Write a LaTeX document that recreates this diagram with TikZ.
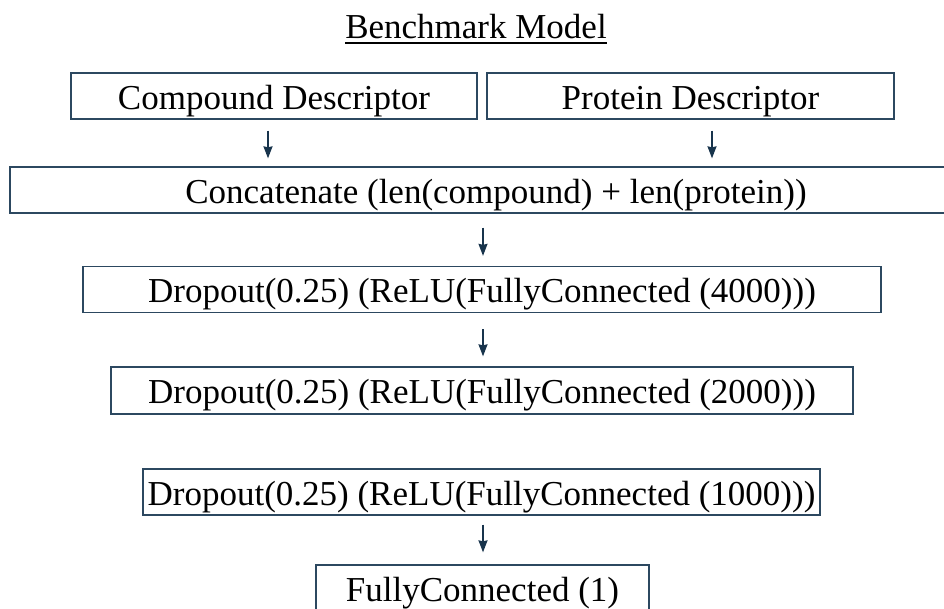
\documentclass[tikz,border=0pt]{standalone}
\usepackage{fontspec}
\setmainfont{Liberation Serif}
\usepackage{xcolor}
\usetikzlibrary{arrows.meta}
\definecolor{boxline}{RGB}{44,72,96}
\definecolor{arrline}{RGB}{24,52,76}
\tikzset{every node/.append style={font=\fontsize{35}{42}\selectfont}}
\tikzset{layer/.style={draw=boxline, line width=1.3pt, inner sep=0pt, minimum height=46pt, text height=36pt, text depth=10pt}}
\tikzset{flow/.style={->, arrline, line width=1.4pt}}

\begin{document}
\begin{tikzpicture}[x=1pt, y=-1pt, >={Stealth[length=12pt, width=9pt, inset=1pt]}]
    \useasboundingbox (0,0) rectangle (944,608);
    \node[inner sep=0pt, anchor=base] (title) at (476,38) {Benchmark Model};
    \draw[line width=1.6pt] ([yshift=-5pt]title.base west) -- ([yshift=-5pt]title.base east);
    \node[layer, minimum width=406pt] (compound) at (274,96) {Compound Descriptor};
    \node[layer, minimum width=407pt] (protein) at (690.5,96) {Protein Descriptor};
    \node[layer, minimum width=972pt] (concat) at (496,190) {Concatenate (len(compound) + len(protein))};
    \node[layer, minimum width=798pt, minimum height=45pt] (drop4k) at (482,289.5) {Dropout(0.25) (ReLU(FullyConnected (4000)))};
    \node[layer, minimum width=742pt, minimum height=47pt] (drop2k) at (482,390.5) {Dropout(0.25) (ReLU(FullyConnected (2000)))};
    \node[layer, minimum width=677pt] (drop1k) at (481.5,492) {Dropout(0.25) (ReLU(FullyConnected (1000)))};
    \node[layer, minimum width=333pt, minimum height=47pt] (fc) at (482.5,588.5) {FullyConnected (1)};
    % arrows between the layers
    \coordinate (c1) at (268,0);
    \coordinate (c2) at (712,0);
    \coordinate (c3) at (483,0);
    \draw[flow, shorten <=11pt, shorten >=8pt] (c1 |- compound.south) -- (c1 |- concat.north);
    \draw[flow, shorten <=11pt, shorten >=8pt] (c2 |- protein.south) -- (c2 |- concat.north);
    \draw[flow, shorten <=14pt, shorten >=10pt] (c3 |- concat.south) -- (c3 |- drop4k.north);
    \draw[flow, shorten <=16pt, shorten >=10pt] (c3 |- drop4k.south) -- (c3 |- drop2k.north);
    \draw[flow, shorten <=9pt, shorten >=12pt] (c3 |- drop1k.south) -- (c3 |- fc.north);
\end{tikzpicture}
\end{document}
